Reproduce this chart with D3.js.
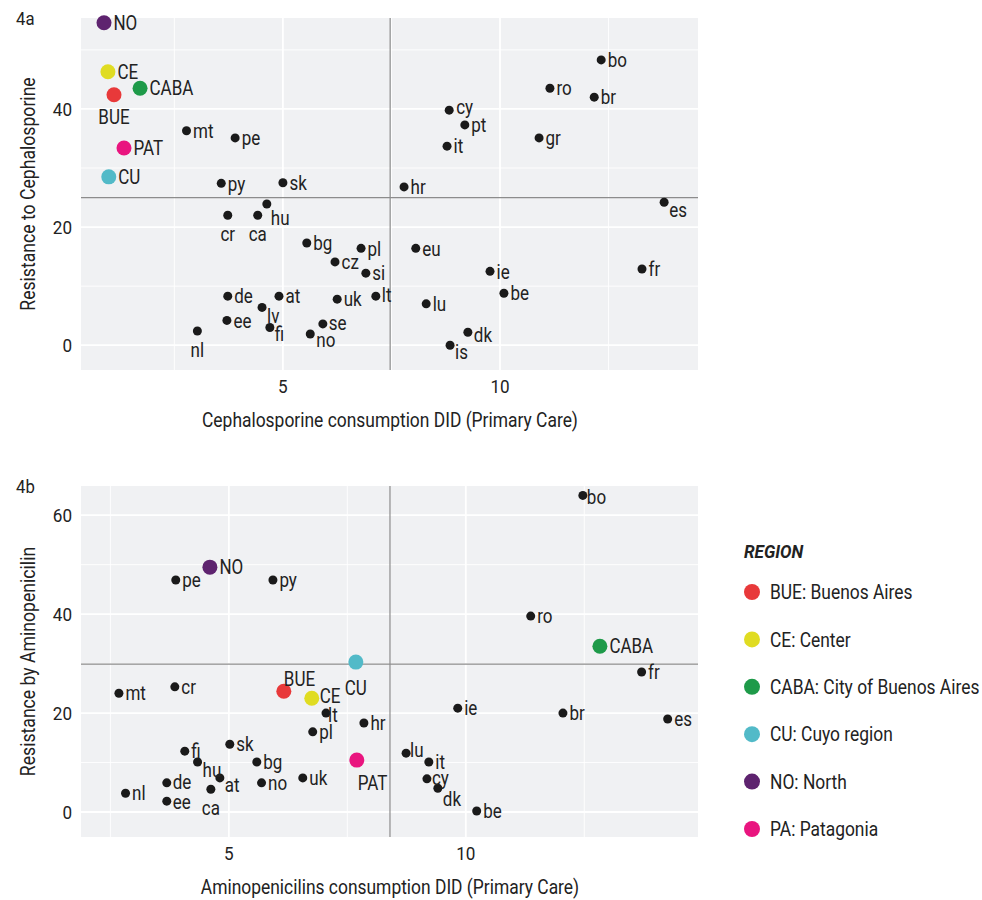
<!DOCTYPE html>
<html>
<head>
<meta charset="utf-8">
<script src="https://cdn.jsdelivr.net/npm/d3@7"></script>
<style>
  body { margin: 0; background: #fff; }
  svg text { font-family: "Roboto", "Liberation Sans", sans-serif; fill: #222; }
</style>
</head>
<body>
<div id="chart"></div>
<script>
// ------------------------------------------------------------
// Data: panel 4a (cephalosporins)
// ------------------------------------------------------------
const ceph_names = ["bo","ro","br","cy","pt","gr","it","hr","es","mt","pe","py","sk","cr","ca","hu",
  "bg","pl","cz","si","eu","ie","fr","de","at","uk","lt","lv","lu","be","ee","fi","se","no","nl","dk","is"];
const ceph_x = [12.33,11.15,12.17,8.83,9.19,10.9,8.78,7.79,13.78,2.78,3.9,3.58,5.0,3.73,4.42,4.63,
  5.55,6.8,6.2,6.91,8.06,9.77,13.27,3.73,4.91,6.25,7.14,4.52,8.3,10.09,3.71,4.7,5.92,5.63,3.03,9.26,8.85];
const ceph_y = [48.3,43.5,42.0,39.8,37.3,35.1,33.7,26.8,24.2,36.3,35.1,27.4,27.5,22.0,22.0,23.9,
  17.3,16.4,14.1,12.2,16.4,12.5,12.9,8.3,8.3,7.8,8.3,6.4,7.0,8.8,4.2,3.0,3.6,1.9,2.4,2.2,0.0];
const ceph_region_names = ["NO","CE","CABA","BUE","PAT","CU"];
const ceph_region_x = [0.88,0.97,1.71,1.11,1.34,0.99];
const ceph_region_y = [54.6,46.3,43.5,42.4,33.4,28.5];
const ceph_ref = [7.47, 25.0];

// ------------------------------------------------------------
// Data: panel 4b (aminopenicillins)
// ------------------------------------------------------------
const amino_names = ["bo","pe","py","ro","fr","mt","cr","lt","pl","hr","ie","br","es","sk","fi","hu",
  "bg","at","ca","no","uk","de","ee","nl","lu","it","cy","dk","be"];
const amino_x = [12.47,3.88,5.93,11.37,13.71,2.68,3.86,7.05,6.77,7.85,9.83,12.05,14.26,5.02,4.07,4.34,
  5.59,4.81,4.62,5.69,6.56,3.69,3.69,2.82,8.74,9.22,9.18,9.41,10.23];
const amino_y = [64.0,46.9,46.9,39.6,28.3,24.0,25.3,20.0,16.2,18.0,21.0,20.0,18.8,13.7,12.3,10.1,
  10.1,6.9,4.6,5.9,6.9,5.9,2.2,3.8,11.9,10.1,6.7,4.8,0.2];
const amino_region_names = ["NO","CABA","CU","BUE","CE","PAT"];
const amino_region_x = [4.6,12.83,7.68,6.16,6.75,7.70];
const amino_region_y = [49.5,33.5,30.3,24.4,23.0,10.5];
const amino_ref = [8.4, 29.9];

// Legend
const region_codes = ["BUE","CE","CABA","CU","NO","PAT"];
const region_labels = ["BUE: Buenos Aires","CE: Center","CABA: City of Buenos Aires","CU: Cuyo region","NO: North","PA: Patagonia"];
const region_colors = ["#e8393a","#e0dc22","#1e9a49","#52bac8","#5e236f","#e9157f"];

// ------------------------------------------------------------
// Layout
// ------------------------------------------------------------
const width = 982, height = 900;
const colorOf = d3.scaleOrdinal().domain(region_codes).range(region_colors);

// the original uses a condensed face; squeeze Roboto horizontally to get close
function squeeze(sel, sx) {
  sel.each(function() {
    const t = d3.select(this);
    const x = +t.attr("x") || 0;
    t.attr("x", x / sx).attr("transform", `scale(${sx},1)`);
  });
  return sel;
}

// label placement overrides (pixel offsets from point centre, anchor)
const labelPosA = {
  BUE: [0, 22, "middle"], cr: [0, 19, "middle"], ca: [0, 19, "middle"], nl: [0, 19, "middle"],
  hu: [4, 14, "start"], is: [5, 7, "start"], es: [5, 8, "start"], cy: [7, -3, "start"],
  se: [6, -1, "start"], no: [6, 6, "start"], lt: [6, -1, "start"], lv: [5, 8, "start"],
  fi: [5, 6, "start"], dk: [6, 3, "start"]
};
const labelPosB = {
  CU: [0, 26, "middle"], BUE: [0, -13, "start"], PAT: [1, 23, "start"], ca: [0, 19, "middle"],
  hu: [5, 8, "start"], at: [5, 7, "start"], cy: [5, -1, "start"], dk: [5, 11, "start"],
  lu: [4, -3, "start"], lt: [2, 2, "start"], CE: [8, -2, "start"], bo: [4, 1, "start"],
  ee: [6, 1, "start"], de: [6, -1, "start"]
};

const svg = d3.select("#chart").append("svg")
  .attr("width", width).attr("height", height);

function drawPanel(cfg) {
  const x = d3.scaleLinear().domain(cfg.xDomain).range([81, 698]);
  const y = d3.scaleLinear().domain(cfg.yDomain).range(cfg.yRange);
  const g = svg.append("g");
  const [top, bottom] = [cfg.yRange[1], cfg.yRange[0]];

  g.append("rect").attr("x", 81).attr("y", top)
    .attr("width", 617).attr("height", bottom - top).attr("fill", "#f0f1f3");

  // minor grid
  g.selectAll(".vminor").data(cfg.xMinor).enter().append("line")
    .attr("x1", d => x(d)).attr("x2", d => x(d)).attr("y1", top).attr("y2", bottom)
    .attr("stroke", "#fff").attr("stroke-width", 0.9);
  g.selectAll(".hminor").data(cfg.yMinor).enter().append("line")
    .attr("y1", d => y(d)).attr("y2", d => y(d)).attr("x1", 81).attr("x2", 698)
    .attr("stroke", "#fff").attr("stroke-width", 0.9);
  // major grid
  g.selectAll(".vmajor").data(cfg.xTicks).enter().append("line")
    .attr("x1", d => x(d)).attr("x2", d => x(d)).attr("y1", top).attr("y2", bottom)
    .attr("stroke", "#fff").attr("stroke-width", 1.8);
  g.selectAll(".hmajor").data(cfg.yTicks).enter().append("line")
    .attr("y1", d => y(d)).attr("y2", d => y(d)).attr("x1", 81).attr("x2", 698)
    .attr("stroke", "#fff").attr("stroke-width", 1.8);

  // reference lines (means)
  g.append("line").attr("x1", x(cfg.ref[0])).attr("x2", x(cfg.ref[0]))
    .attr("y1", top).attr("y2", bottom).attr("stroke", "#8c8c8c").attr("stroke-width", 1.2);
  g.append("line").attr("y1", y(cfg.ref[1])).attr("y2", y(cfg.ref[1]))
    .attr("x1", 81).attr("x2", 698).attr("stroke", "#8c8c8c").attr("stroke-width", 1.2);

  // tick labels
  squeeze(g.selectAll(".xt").data(cfg.xTicks).enter().append("text")
    .attr("x", d => x(d)).attr("y", bottom + 23).attr("text-anchor", "middle")
    .style("font-size", "19px").attr("fill", "#333").text(d => d), 0.9);
  squeeze(g.selectAll(".yt").data(cfg.yTicks).enter().append("text")
    .attr("x", 72).attr("y", d => y(d)).attr("dy", "0.36em").attr("text-anchor", "end")
    .style("font-size", "19px").attr("fill", "#333").text(d => d), 0.9);

  // axis titles
  squeeze(g.append("text").attr("x", 390).attr("y", bottom + 57).attr("text-anchor", "middle")
    .style("font-size", "21px").attr("fill", "#333").text(cfg.xTitle), 0.83);
  g.append("text").attr("transform", `translate(35,${(top + bottom) / 2}) rotate(-90) scale(0.84,1)`)
    .attr("text-anchor", "middle").style("font-size", "21px").attr("fill", "#333").text(cfg.yTitle);
  squeeze(g.append("text").attr("x", 16).attr("y", top + 7).style("font-size", "19px")
    .text(cfg.tag), 0.88);

  // points
  const countries = cfg.names.map((n, i) => ({ name: n, x: cfg.xs[i], y: cfg.ys[i], r: 4.5, color: "#1a1a1a" }));
  const regions = cfg.rNames.map((n, i) => ({ name: n, x: cfg.rxs[i], y: cfg.rys[i], r: 7.5, color: colorOf(n) }));
  const all = countries.concat(regions);

  g.selectAll(".pt").data(all).enter().append("circle")
    .attr("cx", d => x(d.x)).attr("cy", d => y(d.y)).attr("r", d => d.r)
    .attr("fill", d => d.color);

  const labels = g.selectAll(".lbl").data(all).enter().append("text")
    .attr("x", d => {
      const p = cfg.labelPos[d.name];
      return x(d.x) + (p ? p[0] : d.r + 2);
    })
    .attr("y", d => {
      const p = cfg.labelPos[d.name];
      return y(d.y) + (p ? p[1] : 0);
    })
    .attr("dy", "0.36em")
    .attr("text-anchor", d => { const p = cfg.labelPos[d.name]; return p ? p[2] : "start"; })
    .style("font-size", "20px").attr("fill", "#1a1a1a")
    .text(d => d.name);
  squeeze(labels, 0.85);
}

drawPanel({
  tag: "4a", xDomain: [0.35, 14.56], yDomain: [-4.2, 55.4], yRange: [370, 18],
  xTicks: [5, 10], xMinor: [2.5, 7.5, 12.5], yTicks: [0, 20, 40], yMinor: [10, 30, 50],
  ref: ceph_ref, names: ceph_names, xs: ceph_x, ys: ceph_y,
  rNames: ceph_region_names, rxs: ceph_region_x, rys: ceph_region_y,
  labelPos: labelPosA,
  xTitle: "Cephalosporine consumption DID (Primary Care)",
  yTitle: "Resistance to Cephalosporine"
});

drawPanel({
  tag: "4b", xDomain: [1.88, 14.9], yDomain: [-5.05, 65.9], yRange: [837, 486],
  xTicks: [5, 10], xMinor: [2.5, 7.5, 12.5], yTicks: [0, 20, 40, 60], yMinor: [10, 30, 50],
  ref: amino_ref, names: amino_names, xs: amino_x, ys: amino_y,
  rNames: amino_region_names, rxs: amino_region_x, rys: amino_region_y,
  labelPos: labelPosB,
  xTitle: "Aminopenicilins consumption DID (Primary Care)",
  yTitle: "Resistance by Aminopenicilin"
});

// ------------------------------------------------------------
// Legend
// ------------------------------------------------------------
const legend = svg.append("g");
squeeze(legend.append("text").attr("x", 744).attr("y", 558)
  .style("font-size", "19px").style("font-weight", "bold").style("font-style", "italic")
  .text("REGION"), 0.9);
const legendY = d3.scalePoint().domain(region_codes).range([592, 829]);
legend.selectAll("circle").data(region_codes).enter().append("circle")
  .attr("cx", 752).attr("cy", d => legendY(d)).attr("r", 8).attr("fill", d => colorOf(d));
squeeze(legend.selectAll(".lt").data(region_codes).enter().append("text")
  .attr("x", 770).attr("y", d => legendY(d)).attr("dy", "0.36em")
  .style("font-size", "20px").attr("fill", "#333").text((d, i) => region_labels[i]), 0.87);
</script>
</body>
</html>
